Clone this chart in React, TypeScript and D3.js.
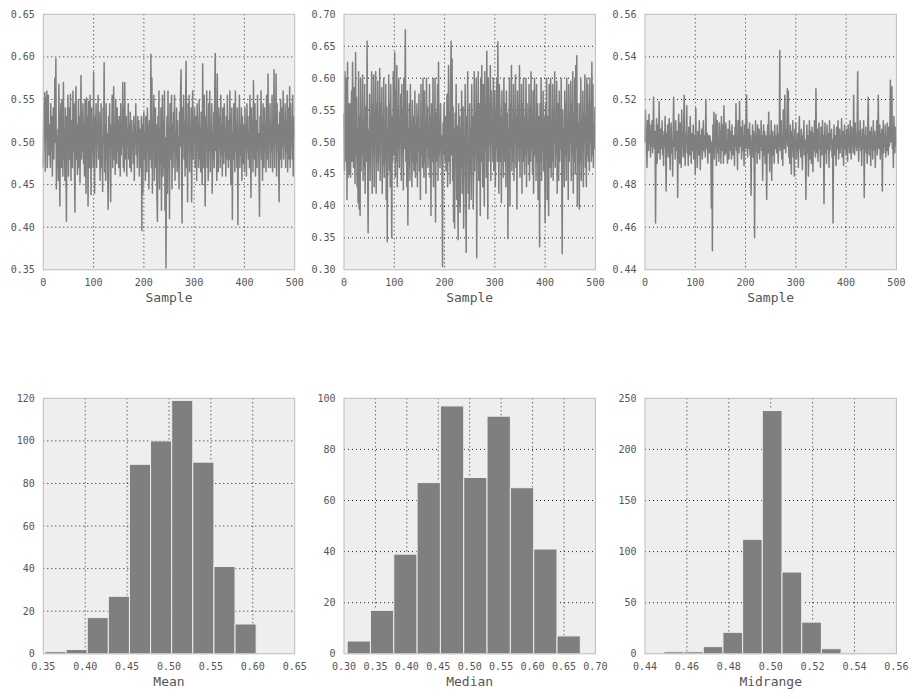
import React from "react";
import * as d3 from "d3";

// ---- data (sample statistics in thousandths, index = sample number) ----
const meanSamples = [
470,545,520,558,466,552,505,560,470,515,
555,485,520,500,470,545,490,530,460,505,
540,480,520,575,500,598,445,515,470,505,
455,568,480,425,520,545,470,550,500,460,
570,480,510,455,540,470,407,530,495,555,
460,500,540,480,556,455,500,525,470,560,
490,545,470,418,540,565,480,520,462,505,
550,470,530,452,515,578,480,535,490,545,
475,520,460,550,500,440,552,480,530,425,
548,500,470,555,515,438,540,490,520,470,
582,495,440,530,510,545,470,520,500,555,
480,535,490,455,520,545,470,505,442,540,
500,593,465,520,455,545,480,510,460,421,
530,500,545,470,430,520,495,555,470,510,
565,480,520,462,550,500,475,540,490,525,
470,530,505,460,545,485,520,495,570,470,
540,465,570,500,480,530,460,515,495,545,
480,520,470,535,500,465,525,490,510,475,
530,455,520,500,545,485,510,470,530,495,
525,460,515,500,470,530,396,520,440,525,
535,480,510,455,530,500,465,540,495,520,
445,525,500,480,603,470,575,440,520,500,
555,455,510,540,470,520,435,407,530,490,
560,445,515,475,540,420,500,555,460,525,
470,560,420,505,352,480,530,440,560,470,
515,410,545,480,500,555,445,520,470,535,
490,555,455,510,480,540,465,525,470,505,
445,535,495,560,585,470,405,540,500,555,
480,525,460,540,595,470,520,430,545,500,
555,465,515,490,540,430,505,560,480,525,
500,540,470,510,530,455,545,490,520,470,
550,480,515,465,535,500,450,592,470,520,
555,480,425,530,500,560,470,515,455,545,
490,560,465,520,500,545,440,510,480,535,
470,560,604,490,520,455,580,500,465,540,
495,530,470,555,485,520,460,540,500,475,
545,490,515,460,530,480,555,500,470,525,
480,560,495,450,520,540,409,510,480,545,
500,465,560,490,520,470,540,403,515,495,
555,470,520,485,540,455,530,500,475,520,
465,540,495,520,460,545,490,530,480,510,
470,555,500,435,540,490,525,465,572,505,
480,545,460,525,500,470,555,490,510,465,
413,530,495,560,480,520,455,545,500,470,
540,490,520,465,555,500,480,580,470,525,
500,545,470,520,490,555,465,510,495,585,
470,530,500,580,460,545,490,520,475,430,
535,480,550,500,470,540,495,560,480,520,
500,545,470,525,490,555,465,540,500,480,
565,470,545,500,520,480,555,460,530,505,
];

const medianSamples = [
545,455,610,520,470,600,410,625,445,560,
490,450,560,445,520,580,470,625,540,460,
585,500,435,640,480,570,430,520,405,610,
395,540,385,600,455,520,480,605,440,530,
460,590,420,555,470,500,658,455,358,520,
470,575,440,530,495,610,420,560,480,605,
430,545,495,610,420,560,470,595,455,520,
480,615,440,560,500,585,420,540,465,600,
445,525,470,590,410,555,344,520,480,605,
455,560,430,590,495,350,540,470,610,480,
520,640,445,580,470,620,430,555,490,600,
460,535,500,575,440,590,480,550,425,600,
490,560,676,470,540,430,580,370,520,465,
560,440,590,490,520,430,565,470,540,455,
510,580,445,525,470,560,430,540,490,575,
455,520,410,590,480,540,460,600,500,445,
580,470,530,420,600,490,555,460,520,475,
590,445,540,385,560,500,470,600,430,530,
480,600,375,545,470,520,590,440,625,480,
520,460,560,490,510,450,305,530,480,560,
500,470,540,455,520,575,430,510,620,470,
545,435,590,658,480,630,440,555,375,520,
365,545,470,590,410,525,455,347,560,400,
540,390,520,460,580,420,500,555,365,510,
470,590,430,327,540,480,610,420,500,395,
560,450,520,410,590,480,540,395,470,610,
455,540,500,600,319,560,470,610,440,530,
560,385,600,470,620,500,430,590,540,400,
610,490,560,445,642,520,380,600,470,560,
495,620,440,580,500,540,470,600,455,520,
580,430,550,490,600,470,657,520,420,590,
560,470,540,405,580,490,520,445,600,510,
470,560,430,580,500,545,349,520,470,600,
400,560,490,620,455,530,470,590,440,545,
500,605,460,540,395,580,490,560,470,620,
445,530,490,590,420,560,470,600,510,450,
540,480,600,430,560,495,520,465,590,440,
555,470,610,490,530,450,580,420,540,600,
480,520,440,590,470,560,410,540,500,336,
560,470,600,440,520,490,580,455,540,500,
375,560,470,600,410,540,490,385,590,460,
530,600,445,520,470,590,440,550,500,610,
460,530,480,595,420,560,500,440,580,470,
540,490,600,455,325,550,470,520,430,580,
480,560,440,600,500,530,410,590,470,545,
500,595,440,560,480,610,420,540,470,600,
450,620,490,635,400,560,470,530,395,560,
470,600,440,520,490,580,430,545,500,605,
460,540,430,600,480,590,470,560,455,600,
500,560,470,625,480,590,460,520,490,555,
];

const midrangeSamples = [
500,515,503,498,488,510,502,496,513,500,
505,493,508,498,510,495,502,521,500,497,
505,462,500,511,490,503,508,495,519,500,
492,506,500,497,510,494,503,489,505,498,
512,500,477,504,496,508,493,502,511,497,
487,503,509,495,500,484,506,521,498,503,
492,510,500,496,505,474,500,513,497,490,
509,500,488,515,498,503,493,510,522,496,
489,504,500,517,495,502,489,507,500,494,
512,498,490,504,500,496,508,492,503,500,
485,516,497,502,488,505,499,494,510,500,
487,503,498,506,492,500,510,496,503,499,
493,520,500,497,504,490,503,500,495,503,
501,496,469,500,449,508,495,514,492,505,
498,513,489,503,510,495,500,491,509,497,
505,490,512,500,496,508,490,517,499,494,
503,509,495,500,490,506,498,492,510,500,
496,505,492,508,499,494,503,500,489,507,
498,518,496,503,487,510,500,495,519,503,
498,507,492,500,510,496,503,489,508,500,
497,512,522,499,493,506,500,497,509,494,
503,475,500,498,508,493,505,497,455,500,
510,496,503,490,508,499,495,506,492,500,
498,510,496,503,482,500,508,494,505,490,
503,498,473,500,508,495,514,500,486,503,
496,510,482,500,505,494,502,490,508,500,
497,503,495,508,500,490,504,498,543,496,
500,510,492,503,489,515,500,497,522,502,
495,506,500,525,498,524,493,503,490,508,
500,485,505,496,510,493,502,484,506,498,
509,492,500,496,504,488,502,512,497,500,
493,506,498,487,503,500,510,494,501,497,
473,500,508,495,503,484,500,510,492,505,
498,490,507,500,486,504,496,510,499,493,
525,500,495,506,491,503,509,497,500,488,
507,499,494,510,498,503,471,500,509,495,
502,490,508,497,504,500,488,510,496,503,
499,506,493,501,462,498,508,494,503,500,
489,507,497,503,510,492,500,506,495,502,
498,511,493,500,505,489,503,508,497,500,
494,506,500,491,508,498,503,495,510,500,
492,507,499,503,495,522,500,494,509,498,
503,496,508,533,500,491,505,498,510,496,
502,489,506,500,497,510,474,503,498,507,
495,502,490,508,521,499,494,505,500,489,
507,498,503,492,510,500,496,505,488,502,
498,510,494,503,522,497,500,508,492,504,
499,506,477,500,510,495,503,498,508,493,
502,496,509,500,494,507,498,503,529,500,
510,526,497,504,488,512,500,495,507,498,
];

// histogram counts (10 equal bins spanning each statistic's min..max)
const meanCounts = [1, 2, 17, 27, 89, 100, 119, 90, 41, 14];
const medianCounts = [5, 17, 39, 67, 97, 69, 93, 65, 41, 7];
const midrangeCounts = [2, 2, 7, 21, 112, 238, 80, 31, 5, 1];

// axis ticks
const sampleTicks = [0, 100, 200, 300, 400, 500];
const meanValueTicks = [0.35, 0.4, 0.45, 0.5, 0.55, 0.6, 0.65];
const medianValueTicks = [0.3, 0.35, 0.4, 0.45, 0.5, 0.55, 0.6, 0.65, 0.7];
const midrangeValueTicks = [0.44, 0.46, 0.48, 0.5, 0.52, 0.54, 0.56];
const meanCountTicks = [0, 20, 40, 60, 80, 100, 120];
const medianCountTicks = [0, 20, 40, 60, 80, 100];
const midrangeCountTicks = [0, 50, 100, 150, 200, 250];
const statLabels = ["Mean", "Median", "Midrange"];

// ---- layout / style ----
const W = 918;
const H = 699;
const COL_X = [43.3, 344, 645];
const PW = 251.4;
const ROW_Y = [14.3, 398.3];
const PH = 255.5;
const BG = "#eeeeee";
const FRAME = "#bcbcbc";
const GRID = "#222222";
const MARK = "#7f7f7f";
const TEXT = "#555555";
const FONT = "'DejaVu Sans Mono', monospace";

type Panel = {
  x0: number;
  y0: number;
  xDomain: [number, number];
  yDomain: [number, number];
  xTicks: number[];
  yTicks: number[];
  xFmt: (v: number) => string;
  yFmt: (v: number) => string;
  label: string;
  children: (xs: d3.ScaleLinear<number, number>, ys: d3.ScaleLinear<number, number>) => React.ReactNode;
};

function Axes(p: Panel) {
  const xs = d3.scaleLinear().domain(p.xDomain).range([p.x0, p.x0 + PW]);
  const ys = d3.scaleLinear().domain(p.yDomain).range([p.y0 + PH, p.y0]);
  const eps = 1e-9;
  const inner = (t: number, d: [number, number]) => t > d[0] + eps && t < d[1] - eps;
  return (
    <g>
      <rect x={p.x0} y={p.y0} width={PW} height={PH} fill={BG} />
      {p.xTicks.filter((t) => inner(t, p.xDomain)).map((t) => (
        <line key={"gx" + t} x1={xs(t)} x2={xs(t)} y1={p.y0} y2={p.y0 + PH}
          stroke={GRID} strokeWidth={1} strokeDasharray="1,3" />
      ))}
      {p.yTicks.filter((t) => inner(t, p.yDomain)).map((t) => (
        <line key={"gy" + t} x1={p.x0} x2={p.x0 + PW} y1={ys(t)} y2={ys(t)}
          stroke={GRID} strokeWidth={1} strokeDasharray="1,3" />
      ))}
      <g>{p.children(xs, ys)}</g>
      <rect x={p.x0} y={p.y0} width={PW} height={PH} fill="none" stroke={FRAME} strokeWidth={1} />
      {p.xTicks.map((t) => (
        <text key={"tx" + t} x={xs(t)} y={p.y0 + PH + 16.5} textAnchor="middle"
          fontSize={10} fill={TEXT} fontFamily={FONT}>{p.xFmt(t)}</text>
      ))}
      {p.yTicks.map((t) => (
        <text key={"ty" + t} x={p.x0 - 8.5} y={ys(t)} dy="0.35em" textAnchor="end"
          fontSize={10} fill={TEXT} fontFamily={FONT}>{p.yFmt(t)}</text>
      ))}
      <text x={p.x0 + PW / 2} y={p.y0 + PH + 32} textAnchor="middle" fontSize={13}
        fill={TEXT} fontFamily={FONT}>{p.label}</text>
    </g>
  );
}

export default function App() {
  const series = [meanSamples, medianSamples, midrangeSamples].map((a) => a.map((v) => v / 1000));
  const counts = [meanCounts, medianCounts, midrangeCounts];
  const valueTicks = [meanValueTicks, medianValueTicks, midrangeValueTicks];
  const countTicks = [meanCountTicks, medianCountTicks, midrangeCountTicks];
  const f2 = d3.format(".2f");
  const fi = d3.format("d");

  return (
    <svg width={W} height={H} style={{ position: "absolute", left: 0, top: 0, background: "#ffffff" }}>
      <rect width={W} height={H} fill="#ffffff" />
      {series.map((s, i) => {
        const vt = valueTicks[i];
        const panel: Panel = {
          x0: COL_X[i], y0: ROW_Y[0],
          xDomain: [0, 500], yDomain: [vt[0], vt[vt.length - 1]],
          xTicks: sampleTicks, yTicks: vt, xFmt: fi, yFmt: f2, label: "Sample",
          children: (xs, ys) => {
            const line = d3.line<number>().x((_, j) => xs(j)).y((v) => ys(v));
            return <path d={line(s) || ""} fill="none" stroke={MARK} strokeWidth={1.5} strokeLinejoin="round" />;
          },
        };
        return <Axes key={"top" + i} {...panel} />;
      })}
      {series.map((s, i) => {
        const vt = valueTicks[i];
        const ct = countTicks[i];
        const c = counts[i];
        const [lo, hi] = d3.extent(s) as [number, number];
        const bw = (hi - lo) / c.length;
        const panel: Panel = {
          x0: COL_X[i], y0: ROW_Y[1],
          xDomain: [vt[0], vt[vt.length - 1]], yDomain: [ct[0], ct[ct.length - 1]],
          xTicks: vt, yTicks: ct, xFmt: f2, yFmt: fi, label: statLabels[i],
          children: (xs, ys) => (
            <g>
              {c.map((n, k) => (
                <rect key={k} x={xs(lo + k * bw)} width={xs(lo + (k + 1) * bw) - xs(lo + k * bw)}
                  y={ys(n)} height={ys(0) - ys(n)} fill={MARK} stroke={BG} strokeWidth={1} />
              ))}
            </g>
          ),
        };
        return <Axes key={"bot" + i} {...panel} />;
      })}
    </svg>
  );
}
